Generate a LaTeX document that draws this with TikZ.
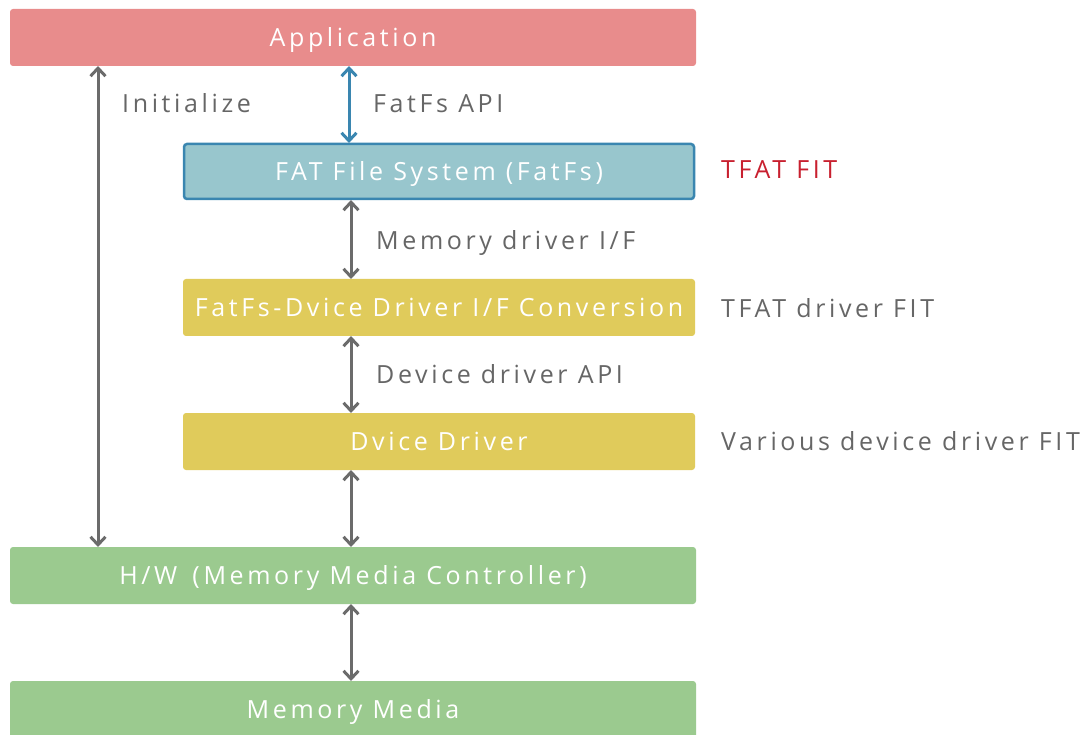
\documentclass[tikz,border=0pt]{standalone}
\usepackage{fontspec}
\setmainfont{Open Sans}[LetterSpace=14.5]
\usetikzlibrary{arrows.meta}
\definecolor{appc}{HTML}{E88C8C}
\definecolor{fatc}{HTML}{98C6CD}
\definecolor{fatb}{HTML}{3A86B0}
\definecolor{yelc}{HTML}{E0CB5B}
\definecolor{grnc}{HTML}{9BCA8F}
\definecolor{grayc}{HTML}{6B6B6B}
\definecolor{labc}{HTML}{666666}
\definecolor{redc}{HTML}{C8202F}
\tikzset{
  box/.style={draw=none, rounded corners=3pt, text=white, font=\fontsize{25}{29}\selectfont, inner sep=0pt, text height=20pt, text depth=2pt},
  lab/.style={text=labc, font=\fontsize{25}{29}\selectfont, anchor=west, inner sep=0pt, text height=20pt, text depth=2pt},
  conn/.style={line width=3pt, draw=grayc, {Straight Barb[length=8pt,width=15pt,line width=3pt]}-{Straight Barb[length=8pt,width=15pt,line width=3pt]}},
}
\begin{document}
\begin{tikzpicture}[x=1pt,y=-1pt]
\useasboundingbox (0,0) rectangle (1090,735);
\begin{scope}
\clip (0,0) rectangle (1090,735);
\node[box, fill=appc, minimum width=686pt, minimum height=57pt] (app) at (353,37.5) {Application};
\node[box, fill=fatc, draw=fatb, line width=2.5pt, minimum width=510pt, minimum height=55pt] (fat) at (439,171.5) {FAT File System (FatFs)};
\node[box, fill=yelc, minimum width=512pt, minimum height=57pt] (conv) at (439,307.5) {FatFs-Dvice Driver I/F Conversion};
\node[box, fill=yelc, minimum width=512pt, minimum height=57pt] (drv) at (439,441.5) {Dvice Driver};
\node[box, fill=grnc, minimum width=686pt, minimum height=57pt] (hw) at (353,575.5) {H/W\hspace{5pt} (Memory Media Controller)};
\node[box, fill=grnc, minimum width=686pt, minimum height=57pt] (mm) at (353,709.5) {Memory Media};
\end{scope}
\coordinate (initA) at (98,66);
\coordinate (initB) at (98,547);
\draw[conn] (initA) -- (initB);
\draw[conn, draw=fatb] (349,66) -- (349,143);
\draw[conn] (351,200) -- (351,279);
\draw[conn] (351,336) -- (351,413);
\draw[conn] (351,470) -- (351,547);
\draw[conn] (351,604) -- (351,681);
\node[lab] (linit) at (122,104) {Initialize};
\node[lab] (lapi) at (373,104) {FatFs API};
\node[lab] (lmem) at (376,241) {Memory driver I/F};
\node[lab] (ldev) at (376,375) {Device driver API};
\node[lab, text=redc] (ltfat) at (721,170) {TFAT FIT};
\node[lab] (ltdrv) at (721,309) {TFAT driver FIT};
\node[lab] (lvar) at (721,441) {Various device driver FIT};
\end{tikzpicture}
\end{document}
